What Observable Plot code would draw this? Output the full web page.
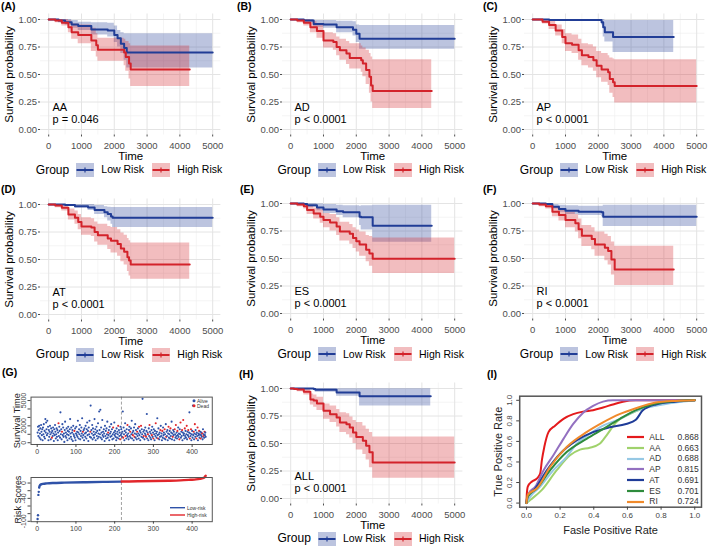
<!DOCTYPE html>
<html><head><meta charset="utf-8">
<script src="https://cdn.jsdelivr.net/npm/d3@7"></script>
<script src="https://cdn.jsdelivr.net/npm/@observablehq/plot@0.6"></script>
<style>
body{margin:0;background:#fff;font-family:"Liberation Sans",Arial,Helvetica,sans-serif;color:#000}
#fig{position:relative;width:709px;height:550px;overflow:hidden;background:#fff}
#fig svg{position:absolute;max-width:none}
</style></head><body><div id="fig"></div>
<script>
// ---------------- DATA ----------------
// Kaplan-Meier steps: [time, survival, lower CI, upper CI]
const AA_low=[[0,1,1,1],[300,.99,.97,1],[500,.975,.95,1],[700,.955,.92,.99],[900,.94,.9,.975],[1300,.91,.86,.97],[1800,.9,.84,.965],[2000,.86,.79,.94],[2100,.83,.75,.9],[2200,.78,.69,.88],[2300,.74,.63,.87],[2380,.7,.56,.87],[5000,.7,.56,.87]];
const AA_high=[[0,1,1,1],[200,.99,.97,1],[400,.97,.94,1],[600,.93,.88,.99],[700,.885,.82,.96],[900,.86,.78,.95],[1300,.81,.71,.92],[1450,.765,.66,.87],[1500,.725,.62,.83],[2300,.7,.58,.82],[2350,.66,.53,.8],[2450,.6,.46,.78],[2500,.545,.39,.76],[4300,.545,.39,.76]];
const AD_low=[[0,1,1,1],[400,.99,.97,1],[700,.96,.93,.99],[1000,.955,.92,.99],[1400,.93,.88,.985],[1900,.906,.85,.98],[2000,.87,.79,.95],[2100,.825,.73,.945],[5000,.825,.73,.945]];
const AD_high=[[0,1,1,1],[200,.99,.97,1],[400,.97,.94,1],[600,.93,.88,.98],[800,.895,.83,.96],[1000,.81,.74,.88],[1300,.795,.72,.87],[1400,.75,.67,.84],[1500,.72,.63,.82],[1700,.69,.59,.8],[1800,.65,.55,.78],[2150,.63,.52,.76],[2200,.6,.48,.74],[2300,.54,.41,.72],[2400,.48,.33,.69],[2450,.4,.25,.66],[2500,.35,.19,.635],[4300,.35,.19,.635]];
const AP_low=[[0,1,1,1],[500,.995,.985,1],[2100,.976,.95,1],[2150,.93,.84,1],[2200,.885,.795,.99],[2450,.84,.7,.99],[4300,.84,.7,.99]];
const AP_high=[[0,1,1,1],[300,.98,.96,1],[500,.95,.91,.99],[700,.9,.85,.95],[900,.84,.78,.91],[1000,.785,.71,.87],[1200,.77,.69,.86],[1400,.72,.63,.82],[1500,.675,.58,.78],[1700,.66,.56,.77],[1850,.63,.53,.75],[1950,.58,.47,.71],[2100,.545,.43,.69],[2300,.52,.4,.67],[2350,.46,.33,.65],[2450,.43,.29,.64],[2500,.395,.24,.635],[5000,.395,.24,.635]];
const AT_low=[[0,1,1,1],[500,.995,.985,1],[800,.985,.965,1],[1200,.973,.945,1],[1400,.95,.91,.99],[1700,.93,.88,.98],[1800,.913,.85,.975],[1900,.89,.82,.973],[1950,.88,.79,.973],[5000,.88,.79,.973]];
const AT_high=[[0,1,1,1],[200,.99,.97,1],[400,.97,.94,1],[600,.91,.86,.96],[800,.88,.82,.94],[900,.84,.77,.91],[1000,.8,.72,.88],[1300,.79,.71,.87],[1400,.75,.66,.84],[1500,.72,.63,.82],[1800,.69,.59,.8],[1900,.67,.56,.79],[2100,.64,.53,.77],[2200,.6,.48,.74],[2300,.57,.45,.72],[2400,.52,.39,.69],[2450,.49,.35,.67],[2500,.455,.32,.65],[4300,.455,.32,.65]];
const ES_low=[[0,1,1,1],[400,.995,.985,1],[500,.985,.965,1],[800,.964,.935,.995],[1000,.946,.91,.99],[1400,.93,.89,.985],[1600,.92,.87,.98],[2100,.88,.8,.975],[2150,.875,.76,.98],[2500,.797,.648,.985],[4300,.797,.648,.985]];
const ES_high=[[0,1,1,1],[200,.99,.97,1],[400,.975,.95,1],[500,.94,.9,.98],[700,.91,.86,.96],[900,.88,.82,.94],[1000,.85,.78,.91],[1200,.827,.75,.9],[1400,.79,.71,.87],[1500,.746,.66,.83],[1800,.725,.63,.81],[1900,.686,.59,.78],[2000,.657,.56,.76],[2100,.627,.52,.74],[2300,.58,.47,.71],[2400,.546,.43,.7],[2500,.498,.364,.686],[5000,.498,.364,.686]];
const RI_low=[[0,1,1,1],[400,.995,.985,1],[600,.97,.95,.99],[800,.95,.92,.985],[1000,.935,.9,.98],[1400,.925,.89,.975],[2100,.92,.88,.975],[2150,.88,.79,.985],[5000,.88,.79,.985]];
const RI_high=[[0,1,1,1],[200,.99,.97,1],[400,.975,.95,1],[600,.925,.88,.97],[800,.895,.84,.95],[1000,.85,.78,.92],[1300,.82,.74,.9],[1400,.767,.68,.86],[1500,.707,.61,.8],[1800,.678,.58,.78],[1900,.627,.52,.74],[2200,.597,.48,.72],[2300,.567,.44,.7],[2400,.49,.35,.65],[2500,.4,.254,.612],[4300,.4,.254,.612]];
const ALL_low=[[0,1,1,1],[700,.995,.985,1],[750,.988,.965,1],[1400,.964,.93,.998],[2100,.93,.84,.997],[4270,.93,.84,.997]];
const ALL_high=[[0,1,1,1],[100,.995,.99,1],[200,.99,.97,1],[400,.97,.94,1],[600,.9,.85,.95],[700,.89,.83,.94],[800,.864,.8,.92],[1000,.797,.72,.86],[1200,.767,.69,.84],[1400,.736,.65,.81],[1500,.69,.6,.78],[1700,.676,.58,.77],[1800,.645,.55,.74],[1900,.6,.5,.71],[2000,.56,.44,.69],[2200,.524,.4,.66],[2300,.48,.35,.63],[2400,.42,.28,.6],[2500,.327,.185,.56],[5000,.327,.185,.56]];

const kmNames=["AA","AD","AP","AT","ES","RI","ALL"];
const kmPvals=["p = 0.046","p < 0.0001","p < 0.0001","p < 0.0001","p < 0.0001","p < 0.0001","p < 0.0001"];
const kmLetters=["(A)","(B)","(C)","(D)","(E)","(F)","(H)"];
const kmLow=[AA_low,AD_low,AP_low,AT_low,ES_low,RI_low,ALL_low];
const kmHigh=[AA_high,AD_high,AP_high,AT_high,ES_high,RI_high,ALL_high];
const groups=["Low Risk","High Risk"];
const timeTicks=[0,1000,2000,3000,4000,5000];
const timeMinor=[500,1500,2500,3500,4500];
const probTicks=[0,0.25,0.5,0.75,1];
const probMinor=[0.125,0.375,0.625,0.875];

// Panel G: survival time per patient (ordered by risk score), dead patients, risk scores
const survTime=[
1200,1900,800,1500,2000,600,1100,1700,400,2100,1300,900,1600,300,1800,1000,2200,700,1400,500,
2800,1200,2400,1600,900,2600,1100,1900,300,1500,700,1300,2000,1000,400,1700,1200,600,1400,800,
1800,1100,200,1600,900,2100,1300,500,1000,1700,700,1500,300,1200,2300,800,1900,1400,600,3600,
1000,1600,400,1300,2200,900,1800,700,1100,100,1500,2500,800,1200,600,1700,1000,300,1400,1900,
900,1300,500,1600,2800,1100,700,1800,400,1200,1500,200,2000,1000,800,1400,600,1700,300,1100,
1900,900,1300,700,2600,1200,500,1600,1000,2100,400,1400,800,1800,1100,2900,600,1300,900,1500,
300,1700,1100,700,2000,1200,500,1600,2400,900,1400,200,1800,1000,2600,700,1300,4400,600,1500,
1100,2100,400,1700,900,1300,600,2800,1000,1600,300,1200,1900,800,1400,500,2300,1100,700,3700,
1500,1000,3900,600,1800,1200,400,2700,900,1300,700,1600,1100,200,2000,800,1400,500,1700,1000,
2500,600,1200,900,1500,300,1900,1100,700,1300,2200,800,1600,400,1000,1800,500,1200,2400,900,
1400,700,1100,300,1700,600,1300,1000,2000,500,1500,800,1200,400,1900,900,1600,1100,700,1300,
3700,600,1800,1000,300,1400,2300,800,1200,500,1600,900,2100,700,1100,400,1500,1900,800,1300,
600,1700,1000,2600,500,1200,900,1400,300,1800,700,1100,2200,600,1500,1000,400,1300,800,1700,
1100,500,1900,900,1400,300,1200,2000,700,1600,1000,5200,600,1300,800,1500,400,1100,1800,900,
700,1400,3400,500,1200,1000,300,1700,800,2100,1300,600,1100,400,1500,900,1900,700,1200,500,
1600,1000,300,1400,800,2300,1100,600,1300,2900,900,500,1700,1000,400,1200,700,1500,2000,800,
1100,300,1400,600,1800,900,1200,500,1600,1000,400,2200,700,1300,800,1500,300,1100,1900,600,
1000,1400,500,1700,800,1200,2500,400,1100,700,1500,900,1300,300,1600,1000,600,2100,800,1200,
500,1400,900,1800,700,1100,400,1600,1000,2400,600,1300,800,1500,300,1200,2700,900,1100,500,
1700,800,1400,600,1000,2000,400,1300,900,1500,700,1200,3600,500,1100,800,1600,300,1000,1400,
600,4400,900,1300,400,1100,2200,700,1500,1000,500,1200,800,1800,300,1100,900,1400,600,1000,
1300,500,900,1200,700,1100,400,1600,800,1000,600,1300,900,1200,700];
const deadIdx=[38,55,64,96,118,137,183,196,209,214,222,228,233,240,247,251,258,263,268,275,281,286,290,296,300,306,312,318,323,329,333,339,344,350,355,358,362,367,370,374,377,381,386,390,394,397,404,407,411,414,418,422,426,429,432];
const riskCutoff=217.5;
const riskLowOutliers=[[1,-94],[2,-84],[3,-31],[4,-23]];
const riskLow=[[5,-12],[6,-8],[7,-6],[8,-5],[10,-3.5],[15,-2],[25,-1],[40,0],[70,1],[120,2],[170,3],[217,3.8]];
const riskHigh=[[218,3.9],[260,4.5],[300,5.2],[340,6],[370,7],[395,8.5],[410,9.5],[420,11],[428,13],[432,15],[435,19]];
const idxTicks=[0,100,200,300,400];
const survTicks=[0,1000,2000,3000,4000,5000];
const survTickLabels=["0","","2000","","","5000"];
const riskTicks=[-100,-80,-60,-40,-20,0];
const riskTickLabels=["-100","","","-40","","0"];

// Panel I: ROC curves [FPR, TPR]
const roc_ALL=[[0,0],[0.002,0.08],[0.008,0.16],[0.033,0.21],[0.063,0.24],[0.082,0.29],[0.092,0.42],[0.106,0.545],[0.131,0.69],[0.17,0.753],[0.22,0.82],[0.278,0.865],[0.337,0.89],[0.396,0.904],[0.455,0.93],[0.514,0.96],[0.573,0.987],[0.65,1],[1,1]];
const roc_AA=[[0,0],[0.024,0.032],[0.092,0.128],[0.18,0.32],[0.259,0.465],[0.318,0.52],[0.376,0.538],[0.435,0.577],[0.475,0.657],[0.533,0.785],[0.612,0.865],[0.71,0.93],[0.847,0.978],[1,1]];
const roc_AD=[[0,0],[0.024,0.064],[0.082,0.16],[0.16,0.32],[0.239,0.45],[0.298,0.577],[0.376,0.673],[0.455,0.753],[0.553,0.817],[0.65,0.897],[0.769,0.946],[0.886,0.978],[1,1]];
const roc_AP=[[0,0],[0.014,0.096],[0.053,0.16],[0.102,0.32],[0.16,0.465],[0.22,0.625],[0.278,0.77],[0.337,0.88],[0.396,0.945],[0.455,0.987],[0.514,1],[1,1]];
const roc_AT=[[0,0],[0.004,0.05],[0.053,0.144],[0.122,0.32],[0.2,0.48],[0.298,0.61],[0.396,0.69],[0.494,0.737],[0.592,0.77],[0.65,0.81],[0.69,0.9],[0.769,0.96],[0.886,0.987],[1,1]];
const roc_ES=[[0,0],[0.008,0.064],[0.063,0.144],[0.141,0.32],[0.239,0.497],[0.357,0.625],[0.455,0.72],[0.553,0.817],[0.65,0.904],[0.769,0.968],[0.886,0.994],[1,1]];
const roc_RI=[[0,0],[0.008,0.08],[0.063,0.144],[0.141,0.353],[0.239,0.545],[0.357,0.69],[0.455,0.785],[0.553,0.865],[0.65,0.923],[0.769,0.978],[0.886,0.994],[1,1]];
const rocModels=["ALL","AA","AD","AP","AT","ES","RI"];
const rocAUC=[0.868,0.663,0.688,0.815,0.691,0.701,0.724];
const rocCurves=[roc_ALL,roc_AA,roc_AD,roc_AP,roc_AT,roc_ES,roc_RI];
const rateTicks=[0,0.2,0.4,0.6,0.8,1];

// ---------------- STYLE / LAYOUT ----------------
const FONT='"Liberation Sans", Arial, Helvetica, sans-serif';
const BLUE="#213d96", RED="#d3232b";
const PBLUE="#2f52a8", PRED="#e2262b";
const rocColors=["#e41a1c","#a0d26c","#96c8e4","#9370c0","#1f3c98","#2e8b3c","#f08a2c"];
const kmLayout=[
  {x0:48.3,y1:19,lx:1,ly:7},{x0:290,y1:19,lx:237,ly:7},{x0:532.3,y1:19,lx:483,ly:7},
  {x0:48.3,y1:203.6,lx:1,ly:190},{x0:290,y1:203.4,lx:240,ly:190},{x0:532.3,y1:203.4,lx:483,ly:190},
  {x0:290,y1:387.7,lx:239,ly:375}];

const fig=document.getElementById("fig");
function place(svg,left,top){svg.style.left=left+"px";svg.style.top=top+"px";fig.appendChild(svg);}
function addHTML(h){fig.insertAdjacentHTML("beforeend",h);}
function txt(s,x,cy,size,extra=""){
  const lh=Math.round(size*1.25*10)/10;
  addHTML(`<div style="position:absolute;left:${x}px;top:${cy-lh/2}px;font-size:${size}px;line-height:${lh}px;white-space:nowrap;${extra}">${s}</div>`);
}
function keyBox(x,cy,c){
  addHTML(`<svg style="left:${x}px;top:${cy-7}px" width="18" height="14"><rect width="18" height="14" fill="${c}" fill-opacity="0.3"/><line x1="0.5" x2="17.5" y1="7" y2="7" stroke="${c}" stroke-width="2"/><line x1="9" x2="9" y1="4.5" y2="9.5" stroke="${c}" stroke-width="1.2"/></svg>`);
}
const midText={textAnchor:"middle",lineAnchor:"middle"};

// ---------------- KM PANELS ----------------
kmNames.forEach((name,k)=>{
  const L=kmLayout[k];
  const mL=40,mT=13.5,fw=180.4,fh=121,mR=8,mB=34;
  const rows=[
    ...kmLow[k].map(([t,s,lo,hi])=>({t,s,lo,hi,g:groups[0]})),
    ...kmHigh[k].map(([t,s,lo,hi])=>({t,s,lo,hi,g:groups[1]}))];
  const svg=Plot.plot({
    width:mL+fw+mR,height:mT+fh+mB,marginLeft:mL,marginRight:mR,marginTop:mT,marginBottom:mB,
    style:{fontFamily:FONT,fontSize:"9.5px",background:"transparent",overflow:"visible"},
    x:{domain:[-250,5250]},y:{domain:[-0.05,1.05]},
    color:{domain:groups,range:[BLUE,RED]},
    marks:[
      Plot.ruleX(timeMinor,{stroke:"#eeeeee",strokeWidth:0.6}),
      Plot.ruleY(probMinor,{stroke:"#eeeeee",strokeWidth:0.6}),
      Plot.ruleX(timeTicks,{stroke:"#e4e4e4",strokeWidth:1}),
      Plot.ruleY(probTicks,{stroke:"#e4e4e4",strokeWidth:1}),
      Plot.areaY(rows,{x:"t",y1:"lo",y2:"hi",z:"g",fill:"g",fillOpacity:0.3,curve:"step-after"}),
      Plot.line(rows,{x:"t",y:"s",z:"g",stroke:"g",strokeWidth:2,curve:"step-after"}),
      Plot.axisX(timeTicks,{tickSize:2,tickPadding:5,fontSize:9.5,color:"#4d4d4d",tickFormat:d=>String(d),label:null}),
      Plot.axisY(probTicks,{tickSize:2,tickPadding:1.5,fontSize:9.5,color:"#4d4d4d",tickFormat:d3.format(".2f"),label:null}),
      Plot.text([name],{text:d=>d,frameAnchor:"bottom-left",dx:12,dy:-27.5,textAnchor:"start",lineAnchor:"middle",fontSize:11,fill:"black"}),
      Plot.text([kmPvals[k]],{text:d=>d,frameAnchor:"bottom-left",dx:12,dy:-15.5,textAnchor:"start",lineAnchor:"middle",fontSize:11,fill:"black"}),
      Plot.text(["Time"],{text:d=>d,frameAnchor:"bottom",dy:21.5,...midText,fontSize:11.5,fill:"black"}),
      Plot.text(["Survival probability"],{text:d=>d,frameAnchor:"left",dx:-31,rotate:-90,...midText,fontSize:11.5,fill:"black"})
    ]});
  place(svg,L.x0-48.2,L.y1-19);
  txt(kmLetters[k],L.lx,L.ly,10.5,"font-weight:bold");
  const cy=L.y1+151;
  txt("Group",L.x0-12.5,cy,12);
  keyBox(L.x0+28,cy,BLUE);
  txt(groups[0],L.x0+53,cy,10.5);
  keyBox(L.x0+104,cy,RED);
  txt(groups[1],L.x0+129,cy,10.5);
});

// ---------------- PANEL G ----------------
txt("(G)",2,373,10.5,"font-weight:bold");
{
  const pts=survTime.map((t,i)=>({i:i+1,t,st:deadIdx.includes(i+1)?"Dead":"Alive"}));
  const svg=Plot.plot({
    width:216.8,height:76,marginLeft:30.5,marginRight:5,marginTop:8.6,marginBottom:20,
    style:{fontFamily:FONT,fontSize:"7px",background:"transparent",overflow:"visible"},
    x:{domain:[-16,452]},y:{domain:[-208,5408]},
    color:{domain:["Alive","Dead"],range:[PBLUE,PRED]},
    marks:[
      Plot.ruleX([riskCutoff],{stroke:"#8a8a8a",strokeWidth:0.8,strokeDasharray:"3,2"}),
      Plot.dot(pts,{x:"i",y:"t",fill:"st",r:1.05}),
      Plot.frame({stroke:"#555",strokeWidth:1}),
      Plot.axisX(idxTicks,{tickSize:3,tickPadding:2,fontSize:7,color:"#444",tickFormat:d=>String(d),label:null}),
      Plot.axisY(survTicks,{tickSize:3,color:"#444",tickFormat:()=>"",label:null}),
      Plot.text(survTicks,{y:d=>d,text:(d,i)=>survTickLabels[i],frameAnchor:"left",dx:-7.2,rotate:-90,...midText,fontSize:7,fill:"#444"}),
      Plot.text(["Survival Time"],{text:d=>d,frameAnchor:"left",dx:-13.8,rotate:-90,...midText,fontSize:9.2,fill:"#222"})
    ]});
  place(svg,0,388);
  addHTML(`<svg style="left:192px;top:397px" width="4" height="12"><circle cx="2" cy="3.7" r="1.5" fill="${PBLUE}"/><circle cx="2" cy="8.7" r="1.5" fill="${PRED}"/></svg>`);
  txt("Alive",197,400.7,5,"color:#333");
  txt("Dead",197,405.7,5,"color:#333");
}
{
  const lowRows=riskLow.map(([i,v])=>({i,v}));
  const highRows=riskHigh.map(([i,v])=>({i,v}));
  const outRows=riskLowOutliers.map(([i,v])=>({i,v}));
  const svg=Plot.plot({
    width:216.8,height:67,marginLeft:30.5,marginRight:5,marginTop:7,marginBottom:15.8,
    style:{fontFamily:FONT,fontSize:"7px",background:"transparent",overflow:"visible"},
    x:{domain:[-16,452]},y:{domain:[-101,14.5]},
    marks:[
      Plot.ruleX([riskCutoff],{stroke:"#8a8a8a",strokeWidth:0.8,strokeDasharray:"3,2"}),
      Plot.dot(outRows,{x:"i",y:"v",fill:PBLUE,r:1.2}),
      Plot.line(lowRows,{x:"i",y:"v",stroke:PBLUE,strokeWidth:2.4,curve:"monotone-x"}),
      Plot.line(highRows,{x:"i",y:"v",stroke:PRED,strokeWidth:2.4,curve:"monotone-x"}),
      Plot.frame({stroke:"#555",strokeWidth:1}),
      Plot.axisX(idxTicks,{tickSize:2.5,tickPadding:1.5,fontSize:7,color:"#444",tickFormat:d=>String(d),label:null}),
      Plot.axisY(riskTicks,{tickSize:3,color:"#444",tickFormat:()=>"",label:null}),
      Plot.text(riskTicks,{y:d=>d,text:(d,i)=>riskTickLabels[i],frameAnchor:"left",dx:-7.2,rotate:-90,...midText,fontSize:7,fill:"#444"}),
      Plot.text(["Risk Scores"],{text:d=>d,frameAnchor:"left",dx:-13,rotate:-90,...midText,fontSize:9,fill:"#222"})
    ]});
  place(svg,0,470);
  addHTML(`<svg style="left:169px;top:504px" width="18" height="14"><line x1="1" x2="16" y1="3.7" y2="3.7" stroke="${PBLUE}" stroke-width="1.4"/><line x1="1" x2="16" y1="11" y2="11" stroke="${PRED}" stroke-width="1.4"/></svg>`);
  txt("Low-risk",187,507.7,5,"color:#333");
  txt("High-risk",187,515,5,"color:#333");
}

// ---------------- PANEL I ----------------
txt("(I)",487,375,10.5,"font-weight:bold");
{
  const rows=rocCurves.flatMap((c,k)=>c.map(([f,t])=>({f,t,m:rocModels[k]})));
  const svg=Plot.plot({
    width:239,height:154.7,marginLeft:49.2,marginRight:8,marginTop:10.7,marginBottom:33,
    style:{fontFamily:FONT,fontSize:"8px",background:"transparent",overflow:"visible"},
    x:{domain:[-0.04,1.04]},y:{domain:[-0.04,1.04]},
    color:{domain:rocModels,range:rocColors},
    marks:[
      Plot.line(rows,{x:"f",y:"t",z:"m",stroke:"m",strokeWidth:2,curve:"monotone-x"}),
      Plot.frame({stroke:"#555",strokeWidth:1.5}),
      Plot.axisX(rateTicks,{tickSize:3,tickPadding:2,fontSize:8,color:"#444",tickFormat:d3.format(".1f"),label:null}),
      Plot.axisY(rateTicks,{tickSize:3,color:"#444",tickFormat:()=>"",label:null}),
      Plot.text(rateTicks,{y:d=>d,text:d3.format(".1f"),frameAnchor:"left",dx:-9.9,rotate:-90,...midText,fontSize:8,fill:"#444"}),
      Plot.text(["Fasle Positive Rate"],{text:d=>d,frameAnchor:"bottom",dy:23.3,...midText,fontSize:11,fill:"#222"}),
      Plot.text(["True Positive Rate"],{text:d=>d,frameAnchor:"left",dx:-20.9,rotate:-90,...midText,fontSize:11,fill:"#222"})
    ]});
  place(svg,470,385);
  rocModels.forEach((m,k)=>{
    const cy=437.3+k*10.73;
    addHTML(`<svg style="left:626.5px;top:${cy-2}px" width="17" height="4"><line x1="0" x2="17" y1="2" y2="2" stroke="${rocColors[k]}" stroke-width="2.2"/></svg>`);
    txt(m,649.3,cy,8.5,"color:#333");
    txt(rocAUC[k].toFixed(3),668.7,cy,8.5,"color:#333;width:30px;text-align:right");
  });
}
</script></body></html>
